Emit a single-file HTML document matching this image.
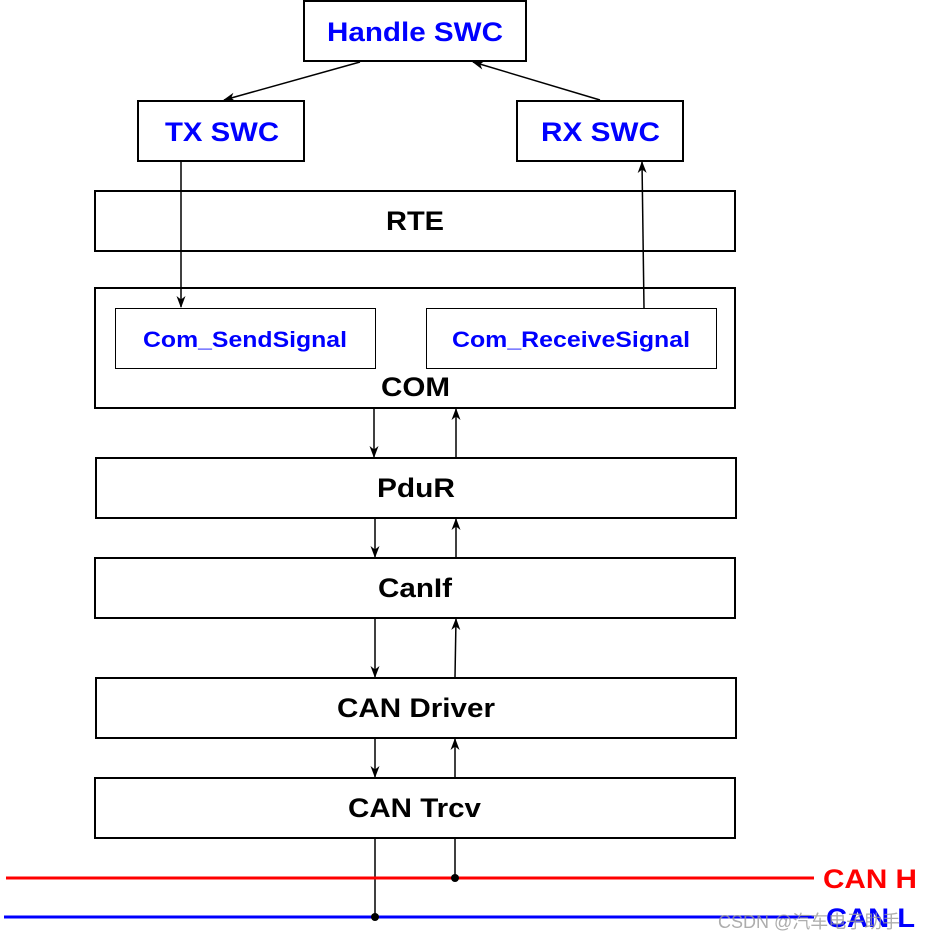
<!DOCTYPE html>
<html><head><meta charset="utf-8"><style>
html,body{margin:0;padding:0;background:#fff;}
svg{display:block;}
</style></head><body>
<svg width="926" height="940" viewBox="0 0 926 940" xmlns="http://www.w3.org/2000/svg" font-family="Liberation Sans, Arial, sans-serif" font-weight="bold">
<defs>
<marker id="a" markerWidth="12" markerHeight="12" refX="11" refY="6" orient="auto" markerUnits="userSpaceOnUse">
<path d="M0,1.5 L12,6 L0,10.5 L3.5,6 Z" fill="#000"/></marker>
</defs>
<g fill="none" stroke="#000" stroke-width="2">
<rect x="304" y="1" width="222" height="60"/>
<rect x="138" y="101" width="166" height="60"/>
<rect x="517" y="101" width="166" height="60"/>
<rect x="95" y="191" width="640" height="60"/>
<rect x="95" y="288" width="640" height="120"/>
<rect x="96" y="458" width="640" height="60"/>
<rect x="95" y="558" width="640" height="60"/>
<rect x="96" y="678" width="640" height="60"/>
<rect x="95" y="778" width="640" height="60"/>
</g>
<g fill="none" stroke="#000" stroke-width="1">
<rect x="115.5" y="308.5" width="260" height="60"/>
<rect x="426.5" y="308.5" width="290" height="60"/>
</g>
<g stroke="#000" stroke-width="1.5" fill="none">
<line x1="360" y1="62" x2="224" y2="100" marker-end="url(#a)"/>
<line x1="600" y1="100" x2="473" y2="62" marker-end="url(#a)"/>
<line x1="181" y1="162" x2="181" y2="307" marker-end="url(#a)"/>
<line x1="644" y1="308" x2="642" y2="162" marker-end="url(#a)"/>
<line x1="374" y1="409" x2="374" y2="457" marker-end="url(#a)"/>
<line x1="456" y1="457" x2="456" y2="409" marker-end="url(#a)"/>
<line x1="375" y1="519" x2="375" y2="557" marker-end="url(#a)"/>
<line x1="456" y1="557" x2="456" y2="519" marker-end="url(#a)"/>
<line x1="375" y1="619" x2="375" y2="677" marker-end="url(#a)"/>
<line x1="455" y1="677" x2="456" y2="619" marker-end="url(#a)"/>
<line x1="375" y1="739" x2="375" y2="777" marker-end="url(#a)"/>
<line x1="455" y1="777" x2="455" y2="739" marker-end="url(#a)"/>
<line x1="375" y1="839" x2="375" y2="917"/>
<line x1="455" y1="839" x2="455" y2="878"/>
</g>
<line x1="6" y1="878" x2="814" y2="878" stroke="#f00" stroke-width="3"/>
<line x1="4" y1="917" x2="814" y2="917" stroke="#00f" stroke-width="3"/>
<circle cx="455" cy="878" r="4" fill="#000"/>
<circle cx="375" cy="917" r="4" fill="#000"/>
<g font-size="27" fill="#0000ff" lengthAdjust="spacingAndGlyphs">
<text x="327" y="41" textLength="176" lengthAdjust="spacingAndGlyphs">Handle SWC</text>
<text x="165" y="141" textLength="114" lengthAdjust="spacingAndGlyphs">TX SWC</text>
<text x="541" y="141" textLength="119" lengthAdjust="spacingAndGlyphs">RX SWC</text>
</g>
<g font-size="22" fill="#0000ff">
<text x="143" y="347" textLength="204" lengthAdjust="spacingAndGlyphs">Com_SendSignal</text>
<text x="452" y="347" textLength="238" lengthAdjust="spacingAndGlyphs">Com_ReceiveSignal</text>
</g>
<g font-size="27" fill="#000">
<text x="386" y="230" textLength="58" lengthAdjust="spacingAndGlyphs">RTE</text>
<text x="381" y="396" textLength="69" lengthAdjust="spacingAndGlyphs">COM</text>
<text x="377" y="497" textLength="78" lengthAdjust="spacingAndGlyphs">PduR</text>
<text x="378" y="597" textLength="74" lengthAdjust="spacingAndGlyphs">CanIf</text>
<text x="337" y="717" textLength="158" lengthAdjust="spacingAndGlyphs">CAN Driver</text>
<text x="348" y="817" textLength="133" lengthAdjust="spacingAndGlyphs">CAN Trcv</text>
</g>
<text x="823" y="888" font-size="27" fill="#f00" textLength="94" lengthAdjust="spacingAndGlyphs">CAN H</text>
<text x="826" y="927" font-size="27" fill="#00f" textLength="89" lengthAdjust="spacingAndGlyphs">CAN L</text>
<text x="718" y="928" font-size="18" font-weight="normal" fill="#999" fill-opacity="0.8" font-family="Liberation Sans, Noto Sans CJK SC, sans-serif">CSDN @汽车电子助手</text>
</svg>
</body></html>
